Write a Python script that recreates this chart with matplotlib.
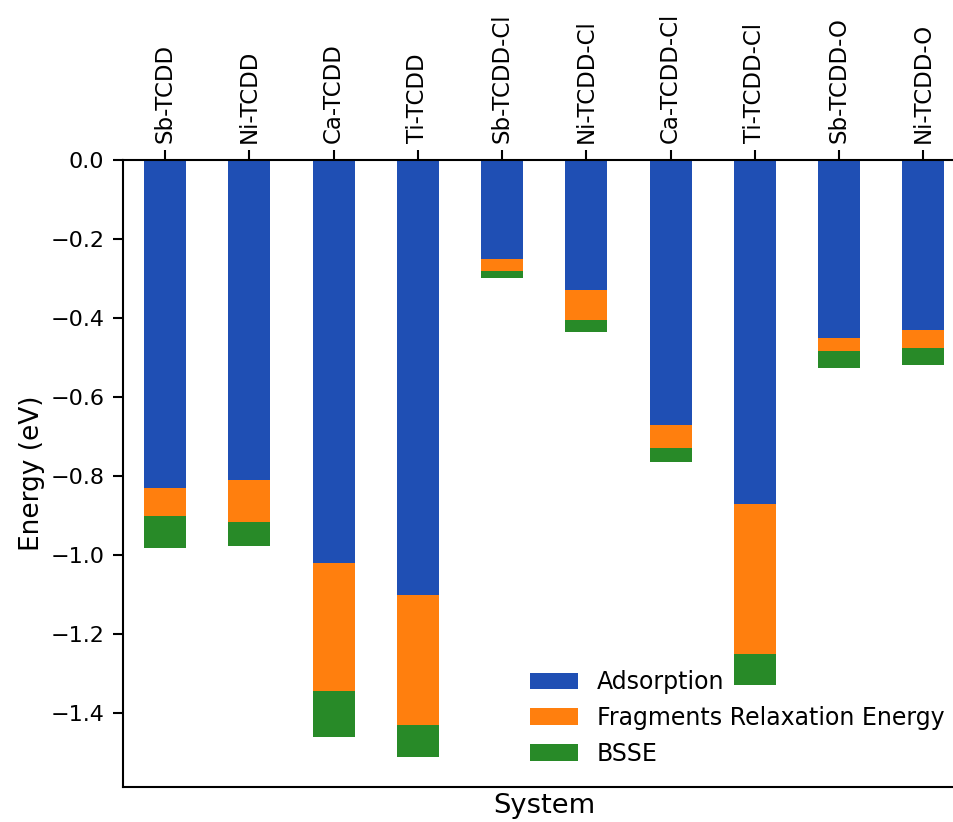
import numpy as np
import matplotlib
matplotlib.use("Agg")
from matplotlib import pyplot as plt

systems = ["Sb-TCDD", "Ni-TCDD", "Ca-TCDD", "Ti-TCDD", "Sb-TCDD-Cl",
           "Ni-TCDD-Cl", "Ca-TCDD-Cl", "Ti-TCDD-Cl", "Sb-TCDD-O", "Ni-TCDD-O"]
adsorption = [-0.83, -0.81, -1.02, -1.10, -0.25, -0.33, -0.67, -0.87, -0.45, -0.43]
relaxation = [-0.07, -0.106, -0.324, -0.33, -0.031, -0.075, -0.059, -0.381, -0.034, -0.046]
bsse = [-0.082, -0.061, -0.117, -0.081, -0.018, -0.030, -0.036, -0.078, -0.043, -0.043]

plt.rcParams["font.size"] = 16
plt.rcParams["axes.linewidth"] = 1.5

fig = plt.figure(figsize=(9.54, 8.22), dpi=100)
# axes run slightly past the right edge of the figure
ax = fig.add_axes([0.129, 0.0426, 0.883, 0.7628])

x = np.arange(len(systems))
ads = np.array(adsorption)
rel = np.array(relaxation)
bs = np.array(bsse)

ax.bar(x, ads, width=0.5, color="#1f4fb4", label="Adsorption")
ax.bar(x, rel, width=0.5, bottom=ads, color="#ff7f0e",
       label="Fragments Relaxation Energy")
ax.bar(x, bs, width=0.5, bottom=ads + rel, color="#288a28", label="BSSE")

ax.set_xlim(-0.5, len(systems) - 0.5)
ax.set_ylim((ads + rel + bs).min() * 1.05, 0)
ax.set_yticks(np.arange(0, -1.41, -0.2))

ax.xaxis.tick_top()
ax.set_xticks(x)
ax.set_xticklabels(systems, rotation=90)
ax.tick_params(width=1.5, length=7)
ax.tick_params(axis="x", labelsize=16.5, pad=5)
ax.tick_params(axis="y", labelsize=16, pad=6.5)
ax.set_xlabel("System", fontsize=19.7)
ax.set_ylabel("Energy (eV)", fontsize=19)
ax.spines["right"].set_visible(False)

ax.legend(loc="lower right", frameon=False, fontsize=17)

fig.savefig("out.png", dpi=100)
